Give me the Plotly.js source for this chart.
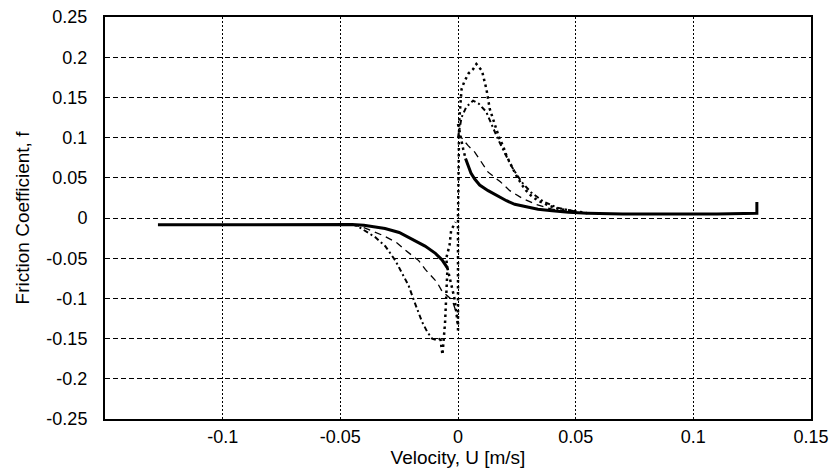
<!DOCTYPE html>
<html>
<head>
<meta charset="utf-8">
<script src="https://cdn.plot.ly/plotly-3.0.1.min.js"></script>
<style>
  html, body { margin: 0; padding: 0; background: #fff; }
  #chart { width: 838px; height: 468px; }
</style>
</head>
<body>
<div id="chart"></div>
<script>
// Solid curve (inner loop + steady-state branches)
const solidX = [-0.1275,-0.10,-0.07,-0.05,-0.045,-0.040,-0.035,-0.031,-0.025,-0.0195,-0.014,-0.0096,-0.0068,-0.0045,
                null,
                0.0032,0.0043,0.0055,0.0071,0.0092,0.0128,0.0163,0.0206,0.0241,0.0284,0.034,0.040,0.047,0.055,0.07,0.09,0.11,0.127,0.127];
const solidY = [-0.0085,-0.0085,-0.008,-0.008,-0.008,-0.009,-0.011,-0.013,-0.018,-0.026,-0.035,-0.044,-0.052,-0.062,
                null,
                0.074,0.064,0.056,0.0485,0.041,0.034,0.028,0.0215,0.017,0.014,0.011,0.009,0.007,0.006,0.005,0.005,0.005,0.006,0.020];

// Thin dashed curve (middle loop)
const dashX = [-0.045,-0.040,-0.0316,-0.0259,-0.0224,-0.0167,-0.0139,-0.0089,-0.0068,-0.0025,-0.001,0,
               null,
               0,0.002,0.0043,0.0071,0.0106,0.0128,0.018,0.022,0.027,0.033,0.040,0.050];
const dashY = [-0.008,-0.012,-0.022,-0.031,-0.040,-0.053,-0.064,-0.080,-0.091,-0.102,-0.115,-0.125,
               null,
               0.105,0.098,0.090,0.082,0.067,0.057,0.045,0.034,0.025,0.017,0.011,0.007];

// Dash-dot curve (outer loop)
const longX = [-0.045,-0.0422,-0.0351,-0.0309,-0.0266,-0.0238,-0.021,-0.0188,-0.0167,-0.0153,-0.013,-0.011,-0.009,-0.0075,
               null,
               0,0.0015,0.0035,0.0064,0.0089,0.012,0.0145,0.017,0.020,0.023,0.027,0.031,0.036,0.042,0.050];
const longY = [-0.008,-0.011,-0.024,-0.035,-0.053,-0.069,-0.084,-0.102,-0.118,-0.129,-0.142,-0.150,-0.152,-0.150,
               null,
               0.100,0.125,0.138,0.146,0.142,0.132,0.115,0.098,0.080,0.063,0.045,0.032,0.021,0.013,0.008];

// Dotted curve (largest loop) and dotted continuations near U = 0
const dotX = [-0.0075,-0.0066,-0.0055,-0.0048,-0.0045,-0.0050,-0.0036,-0.0029,-0.001,
              null,
              -0.0045,-0.003,-0.0015,-0.0006,0,
              null,
              0,0.0006,0.0012,0.0022,0.0032,
              null,
              0,0,0.0005,0.0015,0.0026,0.0045,0.0064,0.0078,0.0102,0.0111,0.0121,0.0135,0.0149,0.0163,0.0177,0.0191,0.0206,0.0227,0.0248,0.027,0.029,0.031,0.034,0.039,0.043,0.049,0.055];
const dotY = [-0.150,-0.170,-0.130,-0.090,-0.064,-0.050,-0.034,-0.015,-0.005,
              null,
              -0.062,-0.080,-0.100,-0.120,-0.135,
              null,
              0.117,0.110,0.100,0.086,0.074,
              null,
              -0.140,0.0,0.120,0.160,0.169,0.180,0.185,0.1915,0.183,0.173,0.160,0.1356,0.123,0.111,0.098,0.090,0.0775,0.065,0.0526,0.042,0.034,0.028,0.0215,0.015,0.011,0.009,0.006];

const xTicks = [-0.1,-0.05,0,0.05,0.1,0.15];
const xTickText = ['-0.1','-0.05','0','0.05','0.1','0.15'];
const yTicks = [-0.25,-0.2,-0.15,-0.1,-0.05,0,0.05,0.1,0.15,0.2,0.25];
const yTickText = ['-0.25','-0.2','-0.15','-0.1','-0.05','0','0.05','0.1','0.15','0.2','0.25'];

const traces = [
  {x: solidX, y: solidY, mode: 'lines', line: {color: '#000', width: 3}, connectgaps: false},
  {x: dashX, y: dashY, mode: 'lines', line: {color: '#000', width: 1.3, dash: '7px,5px'}, connectgaps: false},
  {x: longX, y: longY, mode: 'lines', line: {color: '#000', width: 2, dash: '5px,3px,2px,3px'}, connectgaps: false},
  {x: dotX, y: dotY, mode: 'lines', line: {color: '#000', width: 2.5, dash: '2.5px,3.5px'}, connectgaps: false}
];

const font = {family: 'Liberation Sans, Arial, sans-serif', size: 18, color: '#000'};
const titleFont = {family: 'Liberation Sans, Arial, sans-serif', size: 19, color: '#000'};

const layout = {
  width: 838, height: 468,
  margin: {l: 105, r: 27, t: 17, b: 49},
  paper_bgcolor: '#fff', plot_bgcolor: '#fff',
  showlegend: false,
  font: font,
  xaxis: {
    range: [-0.15, 0.15], autorange: false,
    tickvals: xTicks, ticktext: xTickText,
    showgrid: true, gridcolor: '#000', gridwidth: 1, griddash: '2px,2px',
    zeroline: false,
    showline: true, linecolor: '#000', linewidth: 2, mirror: true,
    ticks: '', ticklabelstandoff: 0,
    tickfont: font,
    title: {text: 'Velocity, U [m/s]', font: titleFont, standoff: 0}
  },
  yaxis: {
    range: [-0.25, 0.25], autorange: false,
    tickvals: yTicks, ticktext: yTickText,
    showgrid: true, gridcolor: '#000', gridwidth: 1, griddash: '5px,3px',
    zeroline: false,
    showline: true, linecolor: '#000', linewidth: 2, mirror: true,
    ticks: '', ticklabelstandoff: 12,
    tickfont: font,
    title: {text: 'Friction Coefficient, f', font: titleFont, standoff: 12}
  }
};

Plotly.newPlot('chart', traces, layout, {staticPlot: true, displayModeBar: false});
</script>
</body>
</html>
